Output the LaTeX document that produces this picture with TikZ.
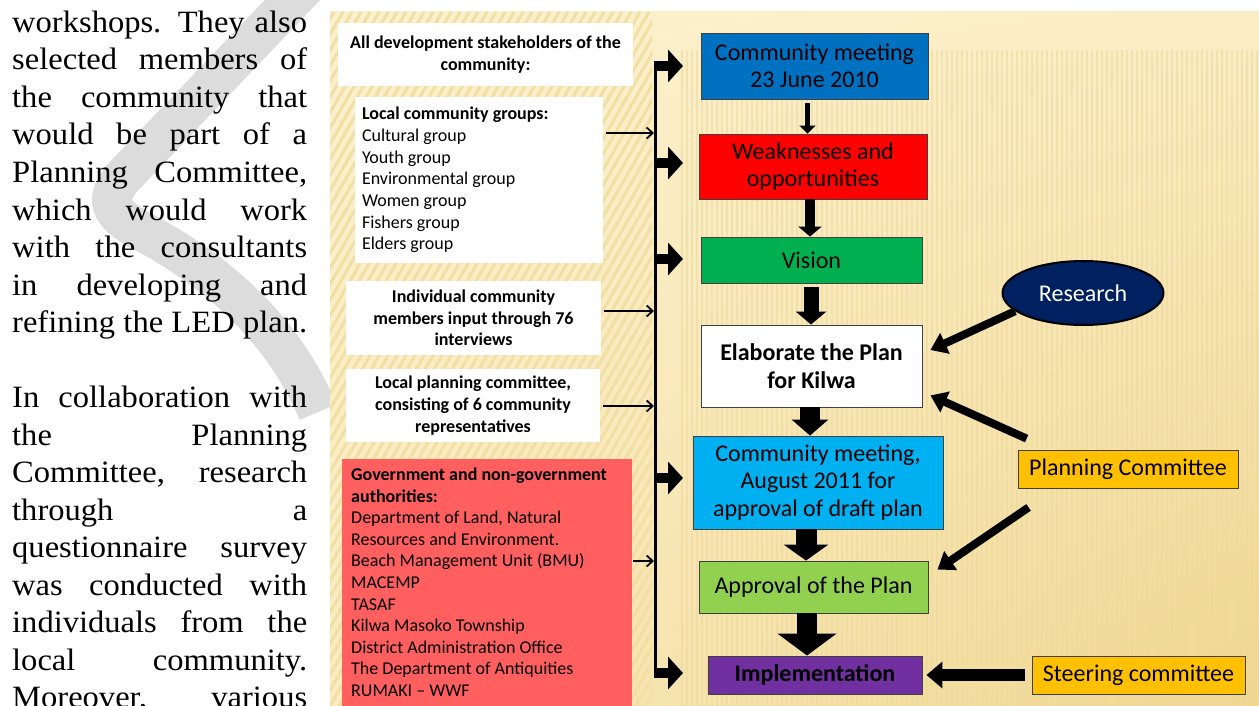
\documentclass[tikz,border=0pt]{standalone}
\usepackage{fontspec}
\setmainfont{Carlito}
\newfontfamily\bodyserif[FakeStretch=1.05]{Liberation Serif}
\usetikzlibrary{arrows.meta,shapes.geometric,shadings}
\definecolor{cblue}{HTML}{0070C0}
\definecolor{cred}{HTML}{FF0000}
\definecolor{cgreen}{HTML}{00B050}
\definecolor{clblue}{HTML}{00B0F0}
\definecolor{clgreen}{HTML}{92D050}
\definecolor{cpurple}{HTML}{7030A0}
\definecolor{cnavy}{HTML}{002060}
\definecolor{cgold}{HTML}{FFC000}
\definecolor{cpink}{HTML}{FF5F5F}
\definecolor{wmgrey}{HTML}{DCDCDC}
\definecolor{pUL}{HTML}{FCF1CE}
\definecolor{pUR}{HTML}{FBEEC6}
\definecolor{pLL}{HTML}{FAEBC0}
\definecolor{pLR}{HTML}{EFD690}
\definecolor{hatchc}{HTML}{F3DFA4}
\definecolor{stripec}{HTML}{EFD99A}
\definecolor{boxline}{HTML}{404040}
\tikzset{
  bodyline/.style={anchor=base west, inner sep=0pt, font=\bodyserif\fontsize{31}{37.5}\selectfont},
  flowbox/.style={draw=boxline, line width=0.9pt, inner sep=0pt, align=center, font=\fontsize{24}{27.5}\selectfont},
  leftbox/.style={fill=white, inner sep=0pt, align=center, font=\fontsize{18}{21.7}\selectfont\bfseries},
  sidebox/.style={fill=cgold, draw=boxline, line width=0.8pt, inner sep=0pt, font=\fontsize{24}{28}\selectfont},
  busarrow/.style={line width=10pt, -{Triangle[width=32pt,length=15pt]}},
  feedarrow/.style={line width=1.8pt, -{Straight Barb[length=6pt,width=11pt]}},
  vflow/.style n args={3}{line width=#1, -{Triangle[width=#2,length=#3]}},
  diagarrow/.style={line width=8pt, -{Triangle[width=22pt,length=16pt]}},
}
\begin{document}
\begin{tikzpicture}[x=1pt,y=-1pt]
\useasboundingbox (0,0) rectangle (1259,706);
\clip (0,0) rectangle (1259,706);
\fill[white] (0,0) rectangle (1259,706);

% watermark band
\draw[wmgrey, line width=40pt, line cap=butt] (345,-55) -- (128,172) .. controls (100,200) and (112,215) .. (140,230) .. controls (235,280) and (290,345) .. (318,412);

% body text, left column
\node[bodyline] (t1) at (12,32.5) {\makebox[295pt][s]{workshops. They also}};
\node[bodyline] (t2) at (12,70) {\makebox[295pt][s]{selected members of}};
\node[bodyline] (t3) at (12,107.5) {\makebox[295pt][s]{the community that}};
\node[bodyline] (t4) at (12,145) {\makebox[295pt][s]{would be part of a}};
\node[bodyline] (t5) at (12,182.5) {\makebox[295pt][s]{Planning Committee,}};
\node[bodyline] (t6) at (12,220) {\makebox[295pt][s]{which would work}};
\node[bodyline] (t7) at (12,257.5) {\makebox[295pt][s]{with the consultants}};
\node[bodyline] (t8) at (12,295) {\makebox[295pt][s]{in developing and}};
\node[bodyline] (t9) at (12,332.5) {\makebox[295pt][s]{refining the LED plan.}};
\node[bodyline] (u1) at (12,407.5) {\makebox[295pt][s]{In collaboration with}};
\node[bodyline] (u2) at (12,445) {\makebox[295pt][s]{the Planning}};
\node[bodyline] (u3) at (12,482.5) {\makebox[295pt][s]{Committee, research}};
\node[bodyline] (u4) at (12,520) {\makebox[295pt][s]{through a}};
\node[bodyline] (u5) at (12,557.5) {\makebox[295pt][s]{questionnaire survey}};
\node[bodyline] (u6) at (12,595) {\makebox[295pt][s]{was conducted with}};
\node[bodyline] (u7) at (12,632.5) {\makebox[295pt][s]{individuals from the}};
\node[bodyline] (u8) at (12,670) {\makebox[295pt][s]{local community.}};
\node[bodyline] (u9) at (12,707.5) {\makebox[295pt][s]{Moreover, various}};

% panel background
\shade[upper left=pUL, upper right=pUR, lower left=pLL, lower right=pLR] (330,12) rectangle (1259,706);
\foreach \x in {682,687,...,1259} {\draw[stripec, opacity=0.55, line width=1.6pt] (\x,50) -- (\x,706);}
\begin{scope}
  \clip (330,12) rectangle (652,706);
  \foreach \x in {-120,-111,...,660} {\draw[hatchc, line width=3pt] (\x,706) -- ++(400,-694);}
\end{scope}

% left stakeholder boxes
\node[leftbox, minimum width=295pt, minimum height=63pt] (A) at (485.5,54.5) {All development stakeholders of the\\community:};
\node[fill=white, inner xsep=7pt, inner ysep=0pt, text width=234pt, minimum height=166pt, align=left, font=\fontsize{18}{21.7}\selectfont] (B) at (479,180) {\spaceskip=0pt\xspaceskip=0pt\textbf{Local community groups:}\\Cultural group\\Youth group\\Environmental group\\Women group\\Fishers group\\Elders group};
\node[leftbox, minimum width=255pt, minimum height=74pt] (C) at (473.5,318) {Individual community\\members input through 76\\interviews};
\node[leftbox, minimum width=254pt, minimum height=73pt] (D) at (473,405.5) {Local planning committee,\\consisting of 6 community\\representatives};
\node[fill=cpink, inner sep=0pt, minimum width=290pt, minimum height=261pt] (E) at (487,589.5) {};
\node[anchor=base west, inner sep=0pt, font=\fontsize{18}{21.6}\selectfont] (etext) at (351,480.5) {\parbox[t]{278pt}{\raggedright\textbf{Government and non-government}\\\textbf{authorities:}\\Department of Land, Natural\\Resources and Environment.\\Beach Management Unit (BMU)\\MACEMP\\TASAF\\Kilwa Masoko Township\\District Administration Office\\The Department of Antiquities\\RUMAKI -- WWF}};

% flow boxes
\node[flowbox, fill=cblue, minimum width=227pt, minimum height=66pt] (c1) at (814.5,66) {Community meeting\\23 June 2010};
\node[flowbox, fill=cred, minimum width=228pt, minimum height=65pt] (c2) at (813,166.5) {Weaknesses and\\opportunities};
\node[flowbox, fill=cgreen, minimum width=221pt, minimum height=46pt] (c3) at (811.5,260) {Vision};
\node[flowbox, fill=white, minimum width=221pt, minimum height=82pt, font=\fontsize{24}{27.5}\selectfont\bfseries] (c4) at (811.5,366) {Elaborate the Plan\\for Kilwa};
\node[flowbox, fill=clblue, minimum width=250pt, minimum height=93pt] (c5) at (818,482.5) {Community meeting,\\August 2011 for\\approval of draft plan};
\node[flowbox, fill=clgreen, minimum width=229pt, minimum height=52pt] (c6) at (813.5,587) {Approval of the Plan};
\node[flowbox, fill=cpurple, minimum width=214pt, minimum height=38pt, font=\fontsize{24}{27.5}\selectfont\bfseries] (c7) at (815,675) {Implementation};

% right side inputs
\node[ellipse, draw=black, line width=2pt, fill=cnavy, text=white, minimum width=161pt, minimum height=64pt, inner sep=0pt, font=\fontsize{24}{28}\selectfont] (res) at (1083,293) {Research};
\node[sidebox, minimum width=220pt, minimum height=38pt] (pc) at (1128,469) {Planning Committee};
\node[sidebox, minimum width=213pt, minimum height=38pt] (sc) at (1138.5,675) {Steering committee};

% bus line and its arrows
\coordinate (bt) at (655.5,61);
\coordinate (bb) at (655.5,678);
\coordinate (tipline) at (683,0);
\draw[line width=2.6pt] (bt) -- (bb);
\coordinate (k1) at (655.5,66);
\coordinate (k2) at (655.5,163);
\coordinate (k3) at (655.5,259);
\coordinate (k4) at (655.5,478);
\coordinate (k5) at (655.5,673);
\foreach \k in {k1,k2,k3,k4,k5} {\draw[busarrow] (\k) -- (\k -| tipline);}

% feeds from the stakeholder boxes into the bus
\coordinate (h1) at (654,133);
\coordinate (h2) at (654,311);
\coordinate (h3) at (654,406);
\coordinate (h4) at (654,561);
\draw[feedarrow, shorten <=3pt] (h1 -| B.east) -- (h1);
\draw[feedarrow, shorten <=3pt] (h2 -| C.east) -- (h2);
\draw[feedarrow, shorten <=3pt] (h3 -| D.east) -- (h3);
\draw[feedarrow, shorten <=1pt] (h4 -| E.east) -- (h4);

% vertical flow arrows
\coordinate (a1) at ([xshift=-7pt]c1.south);
\coordinate (a2) at ([xshift=-3pt]c2.south);
\coordinate (a3) at ([xshift=-0.5pt]c3.south);
\coordinate (a4) at ([xshift=-1.5pt]c4.south);
\coordinate (a5) at ([xshift=-12pt]c5.south);
\coordinate (a6) at ([xshift=-6.5pt]c6.south);
\draw[vflow={5pt}{16pt}{8pt}, shorten <=4pt] (a1) -- (a1 |- c2.north);
\draw[vflow={10pt}{23pt}{10pt}] (a2) -- (a2 |- c3.north);
\draw[vflow={15pt}{30pt}{13pt}, shorten <=4pt] (a3) -- (a3 |- c4.north);
\draw[vflow={20pt}{36pt}{16pt}] (a4) -- (a4 |- c5.north);
\draw[vflow={21pt}{44pt}{16pt}] (a5) -- (a5 |- c6.north);
\draw[vflow={20pt}{58pt}{22pt}] (a6) -- (a6 |- c7.north);

% diagonal input arrows
\draw[diagarrow] (res.195) -- ([xshift=8pt,yshift=16pt]c4.east);
\draw[diagarrow] ([xshift=9pt,yshift=11pt]pc.north west) -- ([xshift=8pt,yshift=12pt]c4.south east);
\draw[diagarrow] ([xshift=11pt,yshift=-19pt]pc.south west) -- ([xshift=9pt,yshift=-9pt]c6.north east);
\draw[line width=12pt, -{Triangle[width=26pt,length=16pt]}] ([xshift=-7pt]sc.west) -- ([xshift=4pt]c7.east);
\end{tikzpicture}
\end{document}
